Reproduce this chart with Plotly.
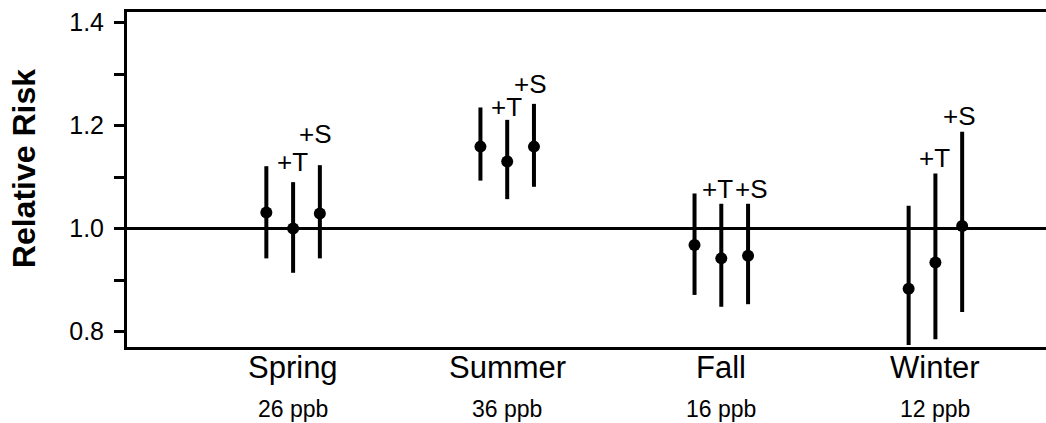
import plotly.graph_objects as go

# Seasons and their mean ozone concentration
seasons = ["Spring", "Summer", "Fall", "Winter"]
ozone_ppb = ["26 ppb", "36 ppb", "16 ppb", "12 ppb"]

# Three model estimates per season: base, +T (temperature), +S (season adjust)
models = ["", "+T", "+S"]

rr = [
    [1.031, 1.000, 1.029],   # Spring
    [1.159, 1.130, 1.159],   # Summer
    [0.968, 0.942, 0.947],   # Fall
    [0.883, 0.934, 1.005],   # Winter
]
ci_upper = [
    [1.121, 1.090, 1.123],
    [1.235, 1.211, 1.242],
    [1.068, 1.048, 1.048],
    [1.044, 1.107, 1.188],
]
ci_lower = [
    [0.942, 0.914, 0.942],
    [1.093, 1.057, 1.081],
    [0.871, 0.848, 0.853],
    [0.774, 0.785, 0.838],
]

# Where the "+T" / "+S" tags sit (data units) and their small horizontal nudges (px)
tag_y = [
    [None, 1.129, 1.183],
    [None, 1.236, 1.280],
    [None, 1.076, 1.076],
    [None, 1.137, 1.218],
]
tag_xshift = [
    [0, -1, -4],
    [0, -1, -3],
    [0, -4, 3],
    [0, -1, -3],
]

offsets = [-0.125, 0.0, 0.125]
FONT = "Liberation Sans, Arial, Helvetica, sans-serif"

xs, ys, up, down = [], [], [], []
for i in range(len(seasons)):
    for j in range(len(models)):
        xs.append(i + offsets[j])
        ys.append(rr[i][j])
        up.append(ci_upper[i][j] - rr[i][j])
        down.append(rr[i][j] - ci_lower[i][j])

fig = go.Figure()

# Reference line at RR = 1
fig.add_shape(type="line", xref="paper", yref="y", x0=0, x1=1, y0=1.0, y1=1.0,
              line=dict(color="black", width=3), layer="below")

fig.add_trace(go.Scatter(
    x=xs, y=ys, mode="markers",
    marker=dict(color="black", size=12),
    error_y=dict(type="data", symmetric=False, array=up, arrayminus=down,
                 color="black", thickness=4, width=0),
    showlegend=False, hoverinfo="skip", cliponaxis=False,
))

annotations = []
for i in range(len(seasons)):
    for j in range(1, len(models)):
        annotations.append(dict(
            x=i + offsets[j], y=tag_y[i][j], xref="x", yref="y",
            text=models[j], showarrow=False, xanchor="center", yanchor="middle",
            xshift=tag_xshift[i][j], font=dict(family=FONT, size=26, color="black"),
        ))
    annotations.append(dict(
        x=i, y=-0.062, xref="x", yref="paper", text=seasons[i], showarrow=False,
        xanchor="center", yanchor="middle", font=dict(family=FONT, size=31, color="black"),
    ))
    annotations.append(dict(
        x=i, y=-0.186, xref="x", yref="paper", text=ozone_ppb[i], showarrow=False,
        xanchor="center", yanchor="middle", font=dict(family=FONT, size=23, color="black"),
    ))

annotations.append(dict(
    x=-0.112, y=0.531, xref="paper", yref="paper", text="<b>Relative Risk</b>",
    textangle=-90, showarrow=False, xanchor="center", yanchor="middle",
    font=dict(family=FONT, size=32, color="black"),
))

tick_vals = [0.8, 0.9, 1.0, 1.1, 1.2, 1.3, 1.4]
tick_text = ["0.8", "", "1.0", "", "1.2", "", "1.4"]

fig.update_layout(
    width=1046, height=423,
    margin=dict(l=127, r=0, t=12, b=76, pad=0),
    paper_bgcolor="white", plot_bgcolor="white",
    annotations=annotations,
    xaxis=dict(
        range=[-0.7758, 3.5166], showgrid=False, zeroline=False,
        showticklabels=False, ticks="",
        showline=True, linecolor="black", linewidth=3, mirror=True,
    ),
    yaxis=dict(
        range=[0.7699, 1.4204], showgrid=False, zeroline=False,
        tickvals=tick_vals, ticktext=tick_text,
        ticks="outside", ticklen=10, tickwidth=3, tickcolor="black",
        tickfont=dict(family=FONT, size=25, color="black"),
        ticklabelstandoff=5,
        showline=True, linecolor="black", linewidth=3, mirror=False,
    ),
)

fig.write_html("out.html")
